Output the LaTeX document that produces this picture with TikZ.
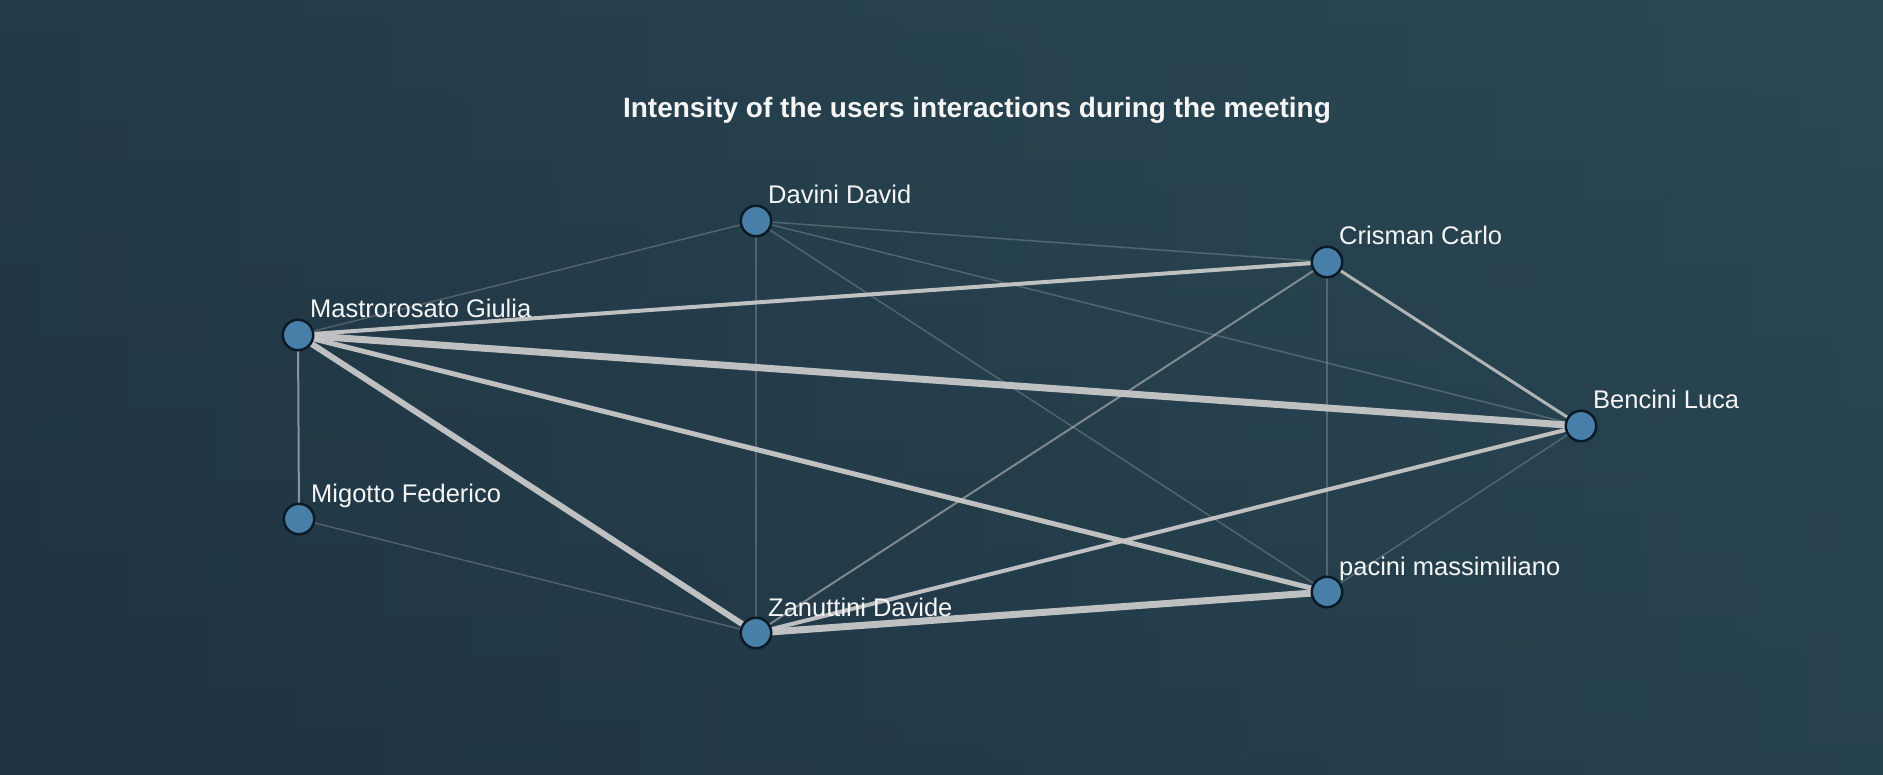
\documentclass[tikz,border=0pt]{standalone}
\usepackage{fontspec}
\setmainfont{Liberation Sans}
\usetikzlibrary{backgrounds}

\definecolor{bgleft}{RGB}{31,51,66}
\definecolor{bgright}{RGB}{43,73,85}
\definecolor{nodefill}{RGB}{72,127,168}
\definecolor{nodeedge}{RGB}{12,26,38}
\definecolor{linkcol}{RGB}{200,200,200}
\definecolor{labelcol}{RGB}{245,245,245}

\tikzset{
  person/.style={circle, fill=nodefill, draw=nodeedge, line width=2.5pt,
                 minimum size=30.5pt, inner sep=0pt},
  personname/.style={anchor=base west, text=labelcol, inner sep=0pt,
               font=\fontsize{25.5}{28}\selectfont},
  heading/.style={anchor=base, text=labelcol, inner sep=0pt,
                  font=\fontsize{28}{32}\selectfont\bfseries},
  link/.style={draw=linkcol, line cap=butt},
  faint/.style={link, line width=1.5pt, draw opacity=0.28},
  strong/.style={link, draw opacity=0.95},
}

\begin{document}
\begin{tikzpicture}[x=1pt, y=-1pt]
  \useasboundingbox (0,0) rectangle (1883,775);

  % people
  \node[person] (D)   at (756,221)  {};
  \node[person] (C)   at (1327,262) {};
  \node[person] (M)   at (298,335)  {};
  \node[person] (B)   at (1581,426) {};
  \node[person] (Mig) at (299,519)  {};
  \node[person] (P)   at (1327,592) {};
  \node[person] (Z)   at (756,633)  {};

  % names
  \node[personname] (lD)   at ([shift={(12pt,17pt)}]D.center)   {Davini David};
  \node[personname] (lC)   at ([shift={(12pt,17pt)}]C.center)   {Crisman Carlo};
  \node[personname] (lM)   at ([shift={(12pt,17pt)}]M.center)   {Mastrorosato Giulia};
  \node[personname] (lB)   at ([shift={(12pt,17pt)}]B.center)   {Bencini Luca};
  \node[personname] (lMig) at ([shift={(12pt,17pt)}]Mig.center) {Migotto Federico};
  \node[personname] (lP)   at ([shift={(12pt,17pt)}]P.center)   {pacini massimiliano};
  \node[personname] (lZ)   at ([shift={(12pt,17pt)}]Z.center)   {Zanuttini Davide};

  % title
  \node[heading] (title) at (977,118) {Intensity of the users interactions during the meeting};

  \begin{pgfonlayer}{background}
    % backdrop
    \shade[left color=bgleft, right color=bgright] (0,0) rectangle (1883,775);
    \shade[top color=bgright, bottom color=bgleft, opacity=0.35] (0,0) rectangle (1883,775);

    % weak interactions
    \draw[faint] (M.center) -- (D.center);
    \draw[faint] (Mig.center) -- (Z.center);
    \draw[faint] (D.center) -- (C.center);
    \draw[faint] (D.center) -- (B.center);
    \draw[faint] (D.center) -- (P.center);
    \draw[faint] (D.center) -- (Z.center);
    \draw[faint] (C.center) -- (P.center);
    \draw[faint] (B.center) -- (P.center);

    % medium interactions
    \draw[link, line width=2pt, draw opacity=0.65] (M.center) -- (Mig.center);
    \draw[link, line width=2pt, draw opacity=0.55] (C.center) -- (Z.center);
    \draw[strong, line width=3pt, draw opacity=0.85] (C.center) -- (B.center);
    \draw[strong, line width=4pt] (M.center) -- (C.center);
    \draw[strong, line width=4pt] (B.center) -- (Z.center);

    % strong interactions
    \draw[strong, line width=5pt] (M.center) -- (P.center);
    \draw[strong, line width=6pt] (M.center) -- (Z.center);
    \draw[strong, line width=7pt] (M.center) -- (B.center);
    \draw[strong, line width=7pt] (P.center) -- (Z.center);
  \end{pgfonlayer}
\end{tikzpicture}
\end{document}
